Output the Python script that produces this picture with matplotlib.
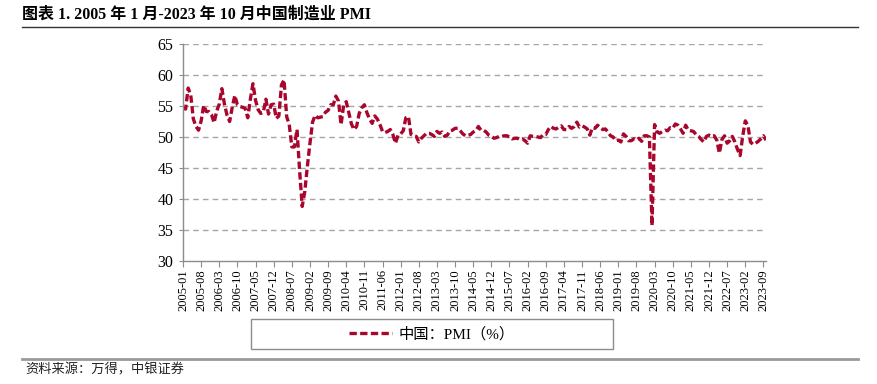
import matplotlib
matplotlib.use("Agg")
import matplotlib.pyplot as plt
from matplotlib.lines import Line2D
from matplotlib.patches import Rectangle
import numpy as np
import pandas as pd

plt.rcParams['font.family'] = ['Liberation Serif', 'Noto Sans CJK SC', 'DejaVu Sans']

# Monthly China manufacturing PMI, 2005-01 .. 2023-10
pmi_2005 = [54.7, 54.5, 57.9, 56.7, 52.9, 51.7, 51.1, 52.6, 55.1, 54.1, 54.1, 53.6]
pmi_2006 = [52.3, 54.2, 55.3, 57.8, 55.3, 53.5, 52.5, 54.8, 56.7, 55.2, 54.9, 54.8]
pmi_2007 = [54.6, 53.1, 56.1, 58.6, 55.9, 54.4, 53.8, 54.0, 56.1, 53.7, 55.2, 55.3]
pmi_2008 = [53.0, 53.4, 58.4, 59.2, 53.3, 52.0, 48.4, 48.4, 51.2, 44.6, 38.8, 41.2]
pmi_2009 = [45.3, 49.0, 52.4, 53.5, 53.1, 53.2, 53.3, 54.0, 54.3, 55.2, 55.2, 56.6]
pmi_2010 = [55.8, 52.0, 55.1, 55.7, 53.9, 52.1, 51.2, 51.7, 53.8, 54.7, 55.2, 53.9]
pmi_2011 = [52.9, 52.2, 53.4, 52.9, 52.0, 50.9, 50.7, 50.9, 51.2, 50.4, 49.0, 50.3]
pmi_2012 = [50.5, 51.0, 53.1, 53.3, 50.4, 50.2, 50.1, 49.2, 49.8, 50.2, 50.6, 50.6]
pmi_2013 = [50.4, 50.1, 50.9, 50.6, 50.8, 50.1, 50.3, 51.0, 51.1, 51.4, 51.4, 51.0]
pmi_2014 = [50.5, 50.2, 50.3, 50.4, 50.8, 51.0, 51.7, 51.1, 51.1, 50.8, 50.3, 50.1]
pmi_2015 = [49.8, 49.9, 50.1, 50.1, 50.2, 50.2, 50.0, 49.7, 49.8, 49.8, 49.6, 49.7]
pmi_2016 = [49.4, 49.0, 50.2, 50.1, 50.1, 50.0, 49.9, 50.4, 50.4, 51.2, 51.7, 51.4]
pmi_2017 = [51.3, 51.6, 51.8, 51.2, 51.2, 51.7, 51.4, 51.7, 52.4, 51.6, 51.8, 51.6]
pmi_2018 = [51.3, 50.3, 51.5, 51.4, 51.9, 51.5, 51.2, 51.3, 50.8, 50.2, 50.0, 49.4]
pmi_2019 = [49.5, 49.2, 50.5, 50.1, 49.4, 49.4, 49.7, 49.5, 49.8, 49.3, 50.2, 50.2]
pmi_2020 = [50.0, 35.7, 52.0, 50.8, 50.6, 50.9, 51.1, 51.0, 51.5, 51.4, 52.1, 51.9]
pmi_2021 = [51.3, 50.6, 51.9, 51.1, 51.0, 50.9, 50.4, 50.1, 49.6, 49.2, 50.1, 50.3]
pmi_2022 = [50.1, 50.2, 49.5, 47.4, 49.6, 50.2, 49.0, 49.4, 50.1, 49.2, 48.0, 47.0]
pmi_2023 = [50.1, 52.6, 51.9, 49.2, 48.8, 49.0, 49.3, 49.7, 50.2, 49.5]

pmi = (pmi_2005 + pmi_2006 + pmi_2007 + pmi_2008 + pmi_2009 + pmi_2010 + pmi_2011
       + pmi_2012 + pmi_2013 + pmi_2014 + pmi_2015 + pmi_2016 + pmi_2017 + pmi_2018
       + pmi_2019 + pmi_2020 + pmi_2021 + pmi_2022 + pmi_2023)
months = pd.date_range("2005-01-01", periods=len(pmi), freq="MS").strftime("%Y-%m").tolist()

title = "图表 1. 2005 年 1 月-2023 年 10 月中国制造业 PMI"
series_label = "中国：PMI（%）"
source = "资料来源：万得，中银证券"
yticks = [30, 35, 40, 45, 50, 55, 60, 65]

W, H = 877, 384
fig = plt.figure(figsize=(W / 100, H / 100), dpi=100)

# axes in pixel coords
x0, x1, yt, yb = 183, 766, 44, 261
ax = fig.add_axes([x0 / W, 1 - yb / H, (x1 - x0) / W, (yb - yt) / H])

line_color = '#A8062C'
x = np.arange(len(pmi))
ax.plot(x, pmi, color=line_color, lw=2.4, linestyle=(0, (2.2, 1.0)),
        dash_capstyle='butt', label=series_label)

ax.set_xlim(0, len(pmi) - 1)
ax.set_ylim(30, 65)
ax.set_yticks(yticks)
ax.set_yticklabels([str(v) for v in yticks], fontsize=11.5)
tick_idx = list(range(0, len(pmi), 7))
ax.set_xticks(tick_idx)
ax.set_xticklabels([months[i] for i in tick_idx], rotation=90, fontsize=9)

for v in yticks[1:]:
    ax.axhline(v, color='#A6A6A6', lw=1.0, linestyle=(0, (4, 3)), zorder=0)

for s in ['top', 'right']:
    ax.spines[s].set_visible(False)
for s in ['left', 'bottom']:
    ax.spines[s].set_color('#8C8C8C')
    ax.spines[s].set_linewidth(1.0)
ax.tick_params(axis='y', length=3, color='#8C8C8C', pad=4)
ax.tick_params(axis='x', length=4, color='#8C8C8C', pad=2)

# title and rules
fig.text(22 / W, 1 - 15 / H, title, fontsize=11.5, fontweight='bold', va='center', ha='left')
fig.add_artist(Line2D([22 / W, 858 / W], [1 - 27 / H, 1 - 27 / H], color='#333333', lw=1.0))
fig.add_artist(Line2D([22 / W, 858 / W], [1 - 359 / H, 1 - 359 / H], color='#999999', lw=2.0))
fig.text(25 / W, 1 - 370 / H, source, fontsize=9.5, style='italic', va='center', ha='left',
         color='#222222')

# legend box
lx0, lx1, ly0, ly1 = 251, 613, 319, 349
fig.add_artist(Rectangle((lx0 / W, 1 - ly1 / H), (lx1 - lx0) / W, (ly1 - ly0) / H,
                         transform=fig.transFigure, fill=False, edgecolor='#8C8C8C', lw=1.0))
fig.legend(loc='center', bbox_to_anchor=((lx0 + lx1) / 2 / W, 1 - (ly0 + ly1) / 2 / H),
           frameon=False, fontsize=11, handlelength=2.8, handletextpad=0.4)

fig.savefig("out.png", dpi=100)
